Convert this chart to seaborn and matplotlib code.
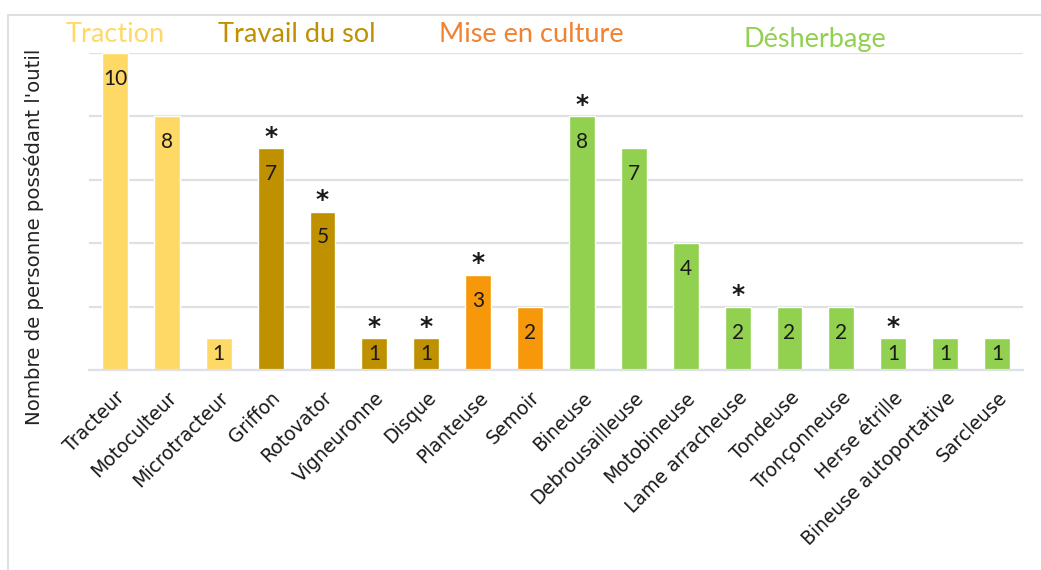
import matplotlib
matplotlib.use("Agg")
import matplotlib.pyplot as plt
import seaborn as sns
import pandas as pd
from matplotlib.patches import Rectangle

categories = ["Tracteur", "Motoculteur", "Microtracteur", "Griffon", "Rotovator",
              "Vigneuronne", "Disque", "Planteuse", "Semoir", "Bineuse",
              "Debrousailleuse", "Motobineuse", "Lame arracheuse", "Tondeuse",
              "Tronçonneuse", "Herse étrille", "Bineuse autoportative", "Sarcleuse"]
values = [10, 8, 1, 7, 5, 1, 1, 3, 2, 8, 7, 4, 2, 2, 2, 1, 1, 1]
groups = ["Traction"] * 3 + ["Travail du sol"] * 4 + ["Mise en culture"] * 2 + ["Désherbage"] * 9
starred = [False, False, False, True, True, True, True, True, False, True,
           False, False, True, False, False, True, False, False]
group_names = ["Traction", "Travail du sol", "Mise en culture", "Désherbage"]
bar_colors = {"Traction": "#FFD966", "Travail du sol": "#BF9000",
              "Mise en culture": "#F7980A", "Désherbage": "#92D050"}
title_colors = {"Traction": "#FFD966", "Travail du sol": "#BF9000",
                "Mise en culture": "#F08232", "Désherbage": "#92D050"}

df = pd.DataFrame({"outil": categories, "n": values, "groupe": groups})

sns.set_theme(style="white")
plt.rcParams['font.family'] = ['Lato', 'DejaVu Sans']

fig = plt.figure(figsize=(10.41, 5.70), dpi=100)
ax = fig.add_axes([89 / 1041, 1 - 370 / 570, 934 / 1041, 317 / 570])

sns.barplot(data=df, x="outil", y="n", hue="groupe", palette=bar_colors,
            dodge=False, width=0.5, legend=False, ax=ax, saturation=1)

ax.set_ylim(0, 10)
ax.set_xlim(-0.5, len(categories) - 0.5)
ax.set_yticks([0, 2, 4, 6, 8, 10])
ax.set_yticklabels([])
ax.yaxis.grid(True, color="#DDE1E6", linewidth=1.6)
ax.set_axisbelow(True)
for s in ["top", "right", "left"]:
    ax.spines[s].set_visible(False)
ax.spines["bottom"].set_color("#DDE1E6")
ax.spines["bottom"].set_linewidth(1.6)
ax.tick_params(axis="both", length=0)
ax.set_xlabel("")
ax.set_ylabel("Nombre de personne possédant l'outil", fontsize=14.2,
              family=["DejaVu Sans"], color="#222222")
ax.yaxis.set_label_coords((44 - 89) / 934, (370 - 237) / 317)
ax.set_xticks(range(len(categories)))
ax.set_xticklabels(categories, rotation=45, ha="right", rotation_mode="anchor",
                   fontsize=13.5, family=["DejaVu Sans"], color="#1a1a1a")
ax.tick_params(axis="x", pad=13)

for i, (v, st) in enumerate(zip(values, starred)):
    ytxt = v - 0.82 if v >= 2 else 0.52
    ax.text(i, ytxt, str(v), ha="center", va="center", fontsize=15, color="#1a1a1a")
    if st:
        ax.text(i, v + 0.36, "*", ha="center", va="center", fontsize=18,
                color="#1a1a1a", fontweight="bold", family=["DejaVu Sans"])

# group titles
title_pos = {"Traction": (115, 35), "Travail du sol": (297, 35),
             "Mise en culture": (531, 35), "Désherbage": (815, 39)}
for g in group_names:
    x, y = title_pos[g]
    fig.text(x / 1041, 1 - y / 570, g, ha="center", va="center", fontsize=19.5,
             color=title_colors[g])

fig.patches.append(Rectangle((8 / 1041, -0.1), 1.2, 1 - 15 / 570 + 0.1,
                             transform=fig.transFigure, fill=False,
                             edgecolor="#DDE1E6", linewidth=1.5))

fig.savefig("out.png", dpi=100)
